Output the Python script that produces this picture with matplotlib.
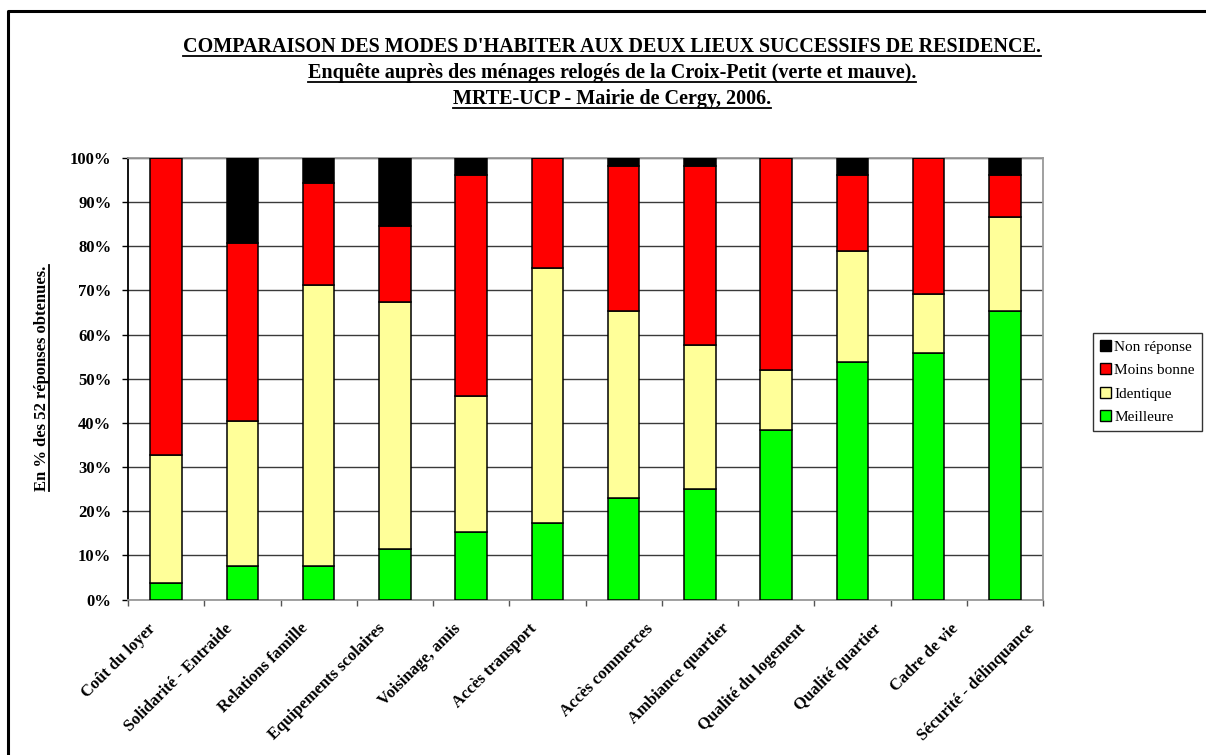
import numpy as np
import matplotlib
matplotlib.use('Agg')
import matplotlib.pyplot as plt
from matplotlib.lines import Line2D
from matplotlib.patches import Patch

# -------------------------------------------------------------------------
# data: counts out of 52 answers

categories = ['Coût du loyer', 'Solidarité - Entraide', 'Relations famille',
              'Equipements scolaires', 'Voisinage, amis', 'Accès transport',
              'Accès commerces', 'Ambiance quartier', 'Qualité du logement',
              'Qualité quartier', 'Cadre de vie', 'Sécurité - délinquance']

meilleure   = [2, 4, 4, 6, 8, 9, 12, 13, 20, 28, 29, 34]
identique   = [15, 17, 33, 29, 16, 30, 22, 17, 7, 13, 7, 11]
moins_bonne = [35, 21, 12, 9, 26, 13, 17, 21, 25, 9, 16, 5]
non_reponse = [0, 10, 3, 8, 2, 0, 1, 1, 0, 2, 0, 2]

n_total = 52

series_names = ['Meilleure', 'Identique', 'Moins bonne', 'Non réponse']
series_colors = ['#00ff00', '#ffff99', '#ff0000', '#000000']

title_lines = ["COMPARAISON DES MODES D'HABITER AUX DEUX LIEUX SUCCESSIFS DE RESIDENCE.",
               "Enquête auprès des ménages relogés de la Croix-Petit (verte et mauve).",
               "MRTE-UCP - Mairie de Cergy, 2006."]
ylabel = 'En % des 52 réponses obtenues.'

# -------------------------------------------------------------------------

serif = ['Liberation Serif', 'DejaVu Serif']

W, H = 1206, 755
fig = plt.figure(figsize=(W / 100., H / 100.), dpi=100)
ax = fig.add_axes([128. / W, 1 - 599.5 / H, (1043. - 128.) / W, (599.5 - 158.) / H])

x = np.arange(len(categories)) + 0.5
bottom = np.zeros(len(categories))
handles = []
for name, vals, color in zip(series_names,
                             [meilleure, identique, moins_bonne, non_reponse],
                             series_colors):
    pct = np.array(vals) / float(n_total) * 100.
    ax.bar(x, pct, width=0.41, bottom=bottom, color=color,
           edgecolor='black', linewidth=1.1, zorder=3)
    bottom = bottom + pct
    handles.append(Patch(facecolor=color, edgecolor='black', linewidth=1.0, label=name))

ax.set_xlim(0, len(categories))
ax.set_ylim(0, 100)

ax.set_yticks(np.arange(0, 101, 10))
ax.set_yticklabels(['%d%%' % v for v in range(0, 101, 10)],
                   fontfamily=serif, fontweight='bold', fontsize=12)
ax.yaxis.grid(True, color='#3a3a3a', linewidth=1.0, zorder=0)
ax.set_axisbelow(True)

ax.set_xticks(np.arange(0, len(categories) + 1))
ax.set_xticklabels([])
ax.tick_params(axis='x', direction='out', length=4, color='#555555', width=1.0)
ax.tick_params(axis='y', direction='out', length=4, color='black', width=1.0, pad=8)

for s in ['top', 'right', 'bottom']:
    ax.spines[s].set_color('#999999')
    ax.spines[s].set_linewidth(1.3)
ax.spines['left'].set_color('black')
ax.spines['left'].set_linewidth(1.3)

# rotated category labels (left half sits a bit left of the bar, right half a bit right)
half = len(categories) // 2
for i, (xi, lab) in enumerate(zip(x, categories)):
    nudge = -0.24 if i < half else 0.28
    ax.text(xi + nudge, -4.8, lab, rotation=45, ha='right', va='top',
            rotation_mode='anchor', fontfamily=serif, fontweight='bold',
            fontsize=12, transform=ax.transData)

# legend
leg = fig.legend(handles=handles[::-1], loc='upper left',
                 bbox_to_anchor=(1093. / W, 1 - 333. / H),
                 frameon=True, fancybox=False, edgecolor='black',
                 prop={'family': serif, 'size': 11},
                 handlelength=0.75, handleheight=0.75, handletextpad=0.2,
                 borderpad=0.45, labelspacing=0.62, borderaxespad=0)
leg.get_frame().set_linewidth(1.0)

# title lines
texts = []
for i, line in enumerate(title_lines):
    t = fig.text(612. / W, 1 - (47. + 26. * i) / H, line, ha='center', va='center',
                 fontfamily=serif, fontweight='bold', fontsize=14.5)
    texts.append(t)

yl = fig.text(42. / W, 1 - 378. / H, ylabel, rotation=90, ha='center', va='center',
              fontfamily=serif, fontweight='bold', fontsize=12)

# underline texts
fig.canvas.draw()
r = fig.canvas.get_renderer()
for t in texts:
    bb = t.get_window_extent(r)
    y0 = bb.y0 + 1
    fig.add_artist(Line2D([bb.x0 / W, bb.x1 / W], [y0 / H, y0 / H],
                          color='black', linewidth=1.3, transform=fig.transFigure))
bb = yl.get_window_extent(r)
fig.add_artist(Line2D([(bb.x1 - 1) / W, (bb.x1 - 1) / W], [bb.y0 / H, bb.y1 / H],
                      color='black', linewidth=1.3, transform=fig.transFigure))

# outer frame (left and top edges visible)
fig.add_artist(Line2D([8. / W, 8. / W, 1.], [0., 1 - 11. / H, 1 - 11. / H],
                      color='black', linewidth=2.2, transform=fig.transFigure))

fig.savefig('out.png', dpi=100)
